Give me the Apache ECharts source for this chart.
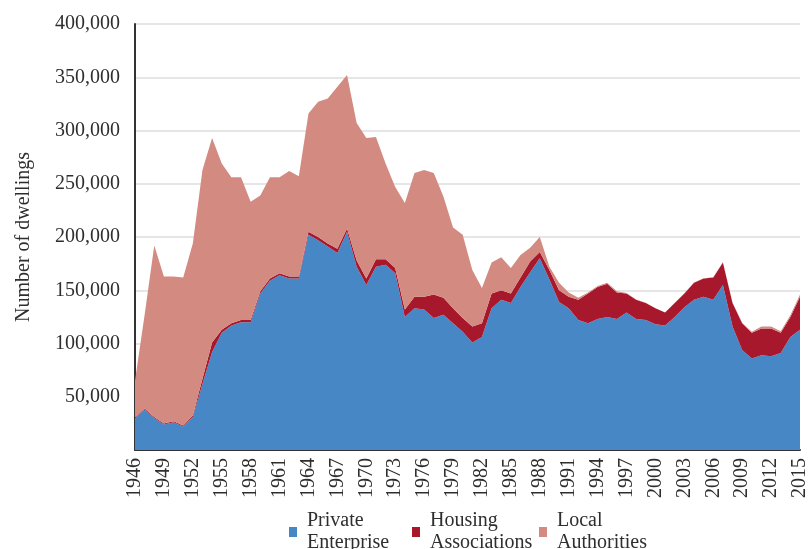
<!DOCTYPE html>
<html>
<head>
<meta charset="utf-8">
<script src="https://cdn.jsdelivr.net/npm/echarts@6/dist/echarts.min.js"></script>
<style>
  html, body { margin: 0; padding: 0; background: #fff; }
  #chart { width: 810px; height: 549px; }
</style>
</head>
<body>
<div id="chart"></div>
<script>
// house building completions by tenure, 1946-2015
const years = []
for (let y = 1946; y <= 2015; y++) years.push(String(y))

const privateEnterprise = [
  30000, 38000, 30000, 24000, 26000, 22000, 31000, 62000, 92000, 110000,
  117000, 120000, 120000, 147000, 159000, 164000, 161000, 161000, 202000, 197000,
  191000, 185000, 205000, 172000, 155000, 172000, 174000, 166000, 125000, 133000,
  132000, 124000, 127000, 119000, 111000, 101000, 106000, 133000, 141000, 138000,
  153000, 167000, 180000, 160000, 139000, 133000, 122000, 119000, 123000, 125000,
  123000, 129000, 123000, 122000, 118000, 117000, 125000, 134000, 141000, 144000,
  141000, 155000, 116000, 94000, 86000, 89000, 88000, 91000, 106000, 113000
]

const housingAssociations = [
  500, 1000, 1000, 1000, 1000, 1000, 1500, 5000, 9000, 3000,
  2000, 2000, 2000, 2000, 2000, 2000, 2000, 2000, 3000, 3000,
  3000, 4000, 3000, 6000, 6000, 7000, 5000, 5000, 7000, 11000,
  12000, 22000, 16000, 14000, 13000, 15000, 13000, 14000, 9000, 9000,
  9000, 10000, 6000, 9000, 11000, 11000, 19000, 28000, 30000, 31000,
  25000, 18000, 18000, 16000, 15000, 12000, 13000, 13000, 16000, 17000,
  21000, 21000, 22000, 25000, 24000, 25000, 26000, 19000, 19000, 31000
]

const localAuthorities = [
  34500, 88000, 161000, 138000, 136000, 139000, 161500, 196000, 192000, 156000,
  137000, 134000, 111000, 90000, 95000, 90000, 99000, 94000, 111000, 127000,
  136000, 152000, 144000, 129000, 132000, 115000, 90000, 76000, 100000, 116000,
  119000, 114000, 95000, 76000, 78000, 53000, 33000, 29000, 31000, 24000,
  21000, 13000, 14000, 3000, 7000, 4000, 2000, 1000, 1000, 1000,
  1000, 500, 300, 300, 200, 200, 200, 200, 200, 200,
  200, 200, 500, 500, 1000, 2000, 2000, 1500, 1500, 2000
]

const legendLabels = {
  'Private Enterprise': 'Private\nEnterprise',
  'Housing Associations': 'Housing\nAssociations',
  'Local Authorities': 'Local\nAuthorities'
}

const font = '"Liberation Serif", "Times New Roman", serif'
const textColor = '#2e2e2e'

function makeLegend(name, left) {
  return {
    data: [name],
    left: left,
    top: 505,
    orient: 'horizontal',
    icon: 'rect',
    itemWidth: 8,
    itemHeight: 10,
    selectedMode: false,
    formatter: (n) => legendLabels[n],
    textStyle: {
      fontFamily: font,
      fontSize: 20,
      lineHeight: 22,
      color: textColor,
      padding: [0, 0, 0, 5]
    }
  }
}

function areaSeries(name, data, color) {
  return {
    name: name,
    type: 'line',
    stack: 'total',
    data: data,
    symbol: 'none',
    lineStyle: { width: 0 },
    areaStyle: { color: color, opacity: 1 },
    itemStyle: { color: color },
    emphasis: { disabled: true }
  }
}

const chart = echarts.init(document.getElementById('chart'))
chart.setOption({
  animation: false,
  backgroundColor: '#fff',
  grid: { left: 135, right: 2, top: 24, bottom: 99, containLabel: false },
  legend: [
    makeLegend('Private Enterprise', 284),
    makeLegend('Housing Associations', 407),
    makeLegend('Local Authorities', 534)
  ],
  xAxis: {
    type: 'category',
    data: years,
    boundaryGap: false,
    axisLine: { lineStyle: { color: '#333', width: 2 } },
    axisTick: { show: false },
    axisLabel: {
      interval: 2,
      rotate: 90,
      margin: 8,
      fontFamily: font,
      fontSize: 20,
      color: textColor
    },
    splitLine: { show: false }
  },
  yAxis: {
    type: 'value',
    min: 0,
    max: 400000,
    interval: 50000,
    name: 'Number of dwellings',
    nameLocation: 'middle',
    nameRotate: 90,
    nameGap: 101,
    nameTextStyle: { fontFamily: font, fontSize: 20, color: textColor },
    axisLine: { show: true, lineStyle: { color: '#333', width: 2 } },
    axisTick: { show: false },
    axisLabel: {
      margin: 15,
      fontFamily: font,
      fontSize: 20,
      color: textColor,
      formatter: (v) => (v === 0 ? '' : v.toLocaleString('en-US'))
    },
    splitLine: { lineStyle: { color: '#e6e6e6', width: 2 } }
  },
  series: [
    areaSeries('Private Enterprise', privateEnterprise, '#4787c6'),
    areaSeries('Housing Associations', housingAssociations, '#a8182c'),
    areaSeries('Local Authorities', localAuthorities, '#d38a81')
  ]
})
</script>
</body>
</html>
